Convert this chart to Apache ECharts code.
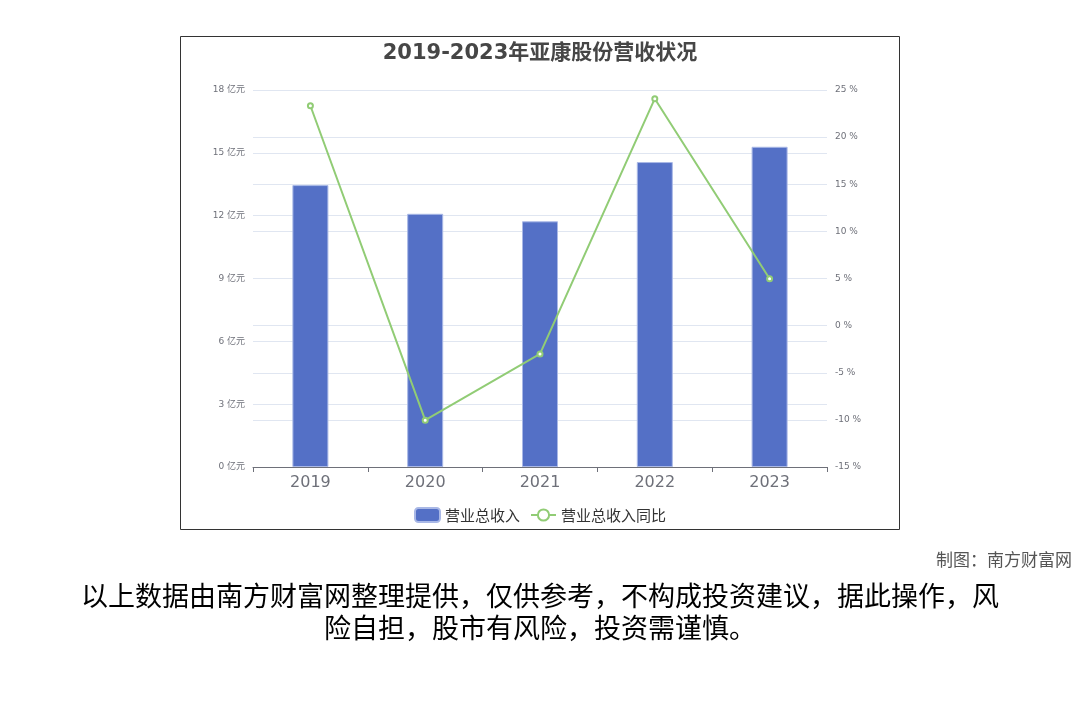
<!DOCTYPE html>
<html><head><meta charset="utf-8">
<script src="https://cdn.jsdelivr.net/npm/echarts@6/dist/echarts.min.js"></script>
<style>html,body{margin:0;padding:0;background:#fff}#c{width:1080px;height:720px}</style>
</head><body><div id="c"></div>
<script>
const years = ['2019','2020','2021','2022','2023'];
const revenue = [13.46, 12.09, 11.73, 14.56, 15.29];
const growth = [23.33, -10.03, -3.0, 24.08, 4.98];
const revTicks = {min: 0, max: 18, interval: 3};
const pctTicks = {min: -15, max: 25, interval: 5};
const font = '"DejaVu Sans", "Noto Sans CJK SC", sans-serif';
const cjk = '"Noto Sans CJK SC", sans-serif';
const chart = echarts.init(document.getElementById('c'));
chart.setOption({
  backgroundColor: '#fff',
  textStyle: {fontFamily: font},
  title: {text: '2019-2023年亚康股份营收状况', left: 'center', top: 38,
    textStyle: {fontSize: 21, fontWeight: 'bold', color: '#464646', fontFamily: font}},
  grid: {left: 253, right: 253, top: 90, bottom: 253, containLabel: false},
  legend: {bottom: 192, left: 'center', itemWidth: 25, itemHeight: 14, itemGap: 10,
    textStyle: {fontSize: 15, color: '#333', fontFamily: cjk},
    data: ['营业总收入', '营业总收入同比']},
  xAxis: {type: 'category', data: years,
    axisLine: {lineStyle: {color: '#6e7079'}},
    axisTick: {show: true, alignWithLabel: false},
    axisLabel: {fontSize: 16, color: '#6e7079', margin: 8, fontFamily: font}},
  yAxis: [
    {type: 'value', min: revTicks.min, max: revTicks.max, interval: revTicks.interval,
      axisLabel: {formatter: '{value} 亿元', fontSize: 9, color: '#6e7079', margin: 8, fontFamily: font},
      splitLine: {lineStyle: {color: '#e0e6f1'}}},
    {type: 'value', min: pctTicks.min, max: pctTicks.max, interval: pctTicks.interval,
      axisLabel: {formatter: '{value} %', fontSize: 9, color: '#6e7079', margin: 8, fontFamily: font},
      splitLine: {lineStyle: {color: '#e0e6f1'}}}
  ],
  series: [
    {name: '营业总收入', type: 'bar', data: revenue, barWidth: 36,
      itemStyle: {color: '#5470c6', borderColor: '#a9b8e6', borderWidth: 1}},
    {name: '营业总收入同比', type: 'line', yAxisIndex: 1, data: growth,
      symbol: 'emptyCircle', symbolSize: 5,
      lineStyle: {color: '#91cc75', width: 2}, itemStyle: {color: '#91cc75'}}
  ],
  graphic: [
    {type: 'rect', shape: {x: 180.5, y: 36.5, width: 719, height: 493},
      style: {fill: null, stroke: '#333', lineWidth: 1}, silent: true},
    {type: 'text', right: 8, top: 551, style: {text: '制图：南方财富网', fontSize: 17, fill: '#555', fontFamily: cjk}},
    {type: 'text', left: 'center', top: 582, style: {text: '以上数据由南方财富网整理提供，仅供参考，不构成投资建议，据此操作，风', fontSize: 27, fill: '#000', fontFamily: cjk}},
    {type: 'text', left: 'center', top: 614, style: {text: '险自担，股市有风险，投资需谨慎。', fontSize: 27, fill: '#000', fontFamily: cjk}}
  ]
});
</script></body></html>
